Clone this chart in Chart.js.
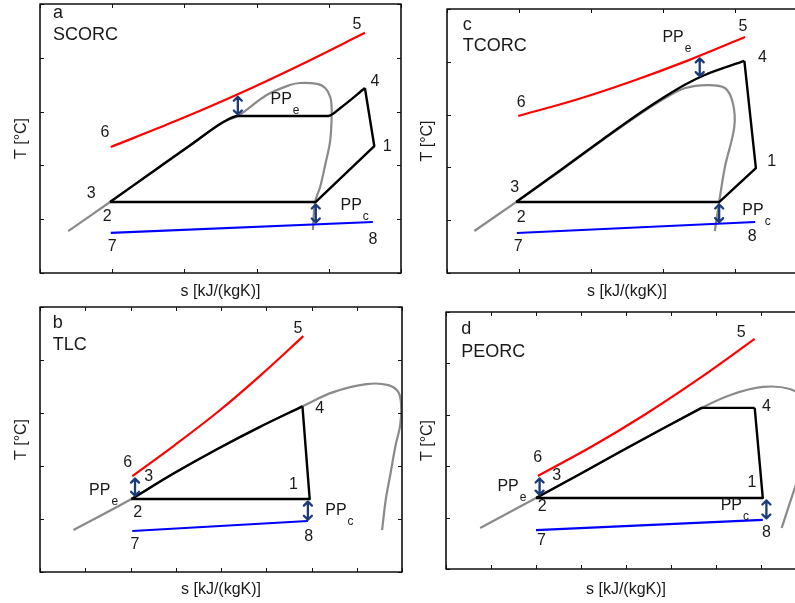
<!DOCTYPE html>
<html>
<head>
<meta charset="utf-8">
<script src="https://cdn.jsdelivr.net/npm/chart.js@4.4.1/dist/chart.umd.min.js"></script>
<style>
  html, body { margin: 0; padding: 0; background: #fff; }
  body { width: 795px; height: 603px; overflow: hidden; position: relative; }
  canvas { position: absolute; }
</style>
</head>
<body>
<canvas id="scorc" width="420" height="300" style="left:0;top:0"></canvas>
<canvas id="tcorc" width="440" height="300" style="left:400px;top:0"></canvas>
<canvas id="tlc" width="420" height="303" style="left:0;top:300px"></canvas>
<canvas id="peorc" width="440" height="303" style="left:400px;top:300px"></canvas>
<script>
// tick positions (no tick labels are printed on these diagrams)
const sTicksCoarse = [0, 1, 2, 3, 4, 5];
const sTicksFine = [0, 0.5, 1, 1.5, 2, 2.5, 3, 3.5, 4];
const tTicks = [0, 50, 100, 150, 200, 250];

// a - SCORC   [s, T]
const scorcDome = [[0.39,39.0],[0.97,66.0],[1.62,96.9],[2.12,120.6],[2.54,140.3],[2.74,145.9],[3.14,165.4],[3.46,174.7],[3.60,176.6],[3.84,175.7],[3.95,171.9],[4.02,163.6],[4.04,151.5],[4.02,123.6],[3.95,100.4],[3.88,79.9],[3.81,66.0],[3.78,40.0]];
const scorcHeating = [[0.97,66.0],[1.62,96.9],[2.12,120.6],[2.54,140.3],[2.74,145.9],[3.99,145.9],[4.16,153.4],[4.50,171.9]];
const scorcRejection = [[4.50,171.9],[4.63,118.0],[3.82,66.0],[0.97,66.0]];
const scorcHot = [[0.98,117.1],[1.86,140.7],[2.74,166.1],[3.62,193.8],[4.50,223.2]];
const scorcCold = [[0.98,37.2],[4.61,47.4]];
const scorcPinch = [[2.74,145.9,166.1],[3.82,45.5,66.0]];
const scorcNumbers = [["1",4.81,117.1],["2",0.93,52.0],["3",0.71,73.4],["4",4.64,177.5],["5",4.39,230.5],["6",0.90,130.1],["7",1.00,24.2],["8",4.61,30.7]];
const scorcPP = [["e",3.34,160.8],["c",4.31,62.3]];
const scorcTitle = [["a",0.18,241.2],["SCORC",0.18,221.2]];

// c - TCORC
const tcorcDome = [[0.38,39.8],[0.96,67.2],[1.57,96.6],[2.18,126.9],[2.68,150.6],[3.03,165.7],[3.31,175.2],[3.61,178.0],[3.86,175.2],[3.97,161.0],[3.99,138.3],[3.86,100.4],[3.78,67.2],[3.72,39.8]];
const tcorcHeating = [[0.96,67.2],[1.57,97.1],[2.18,127.4],[2.68,151.5],[3.03,167.1],[3.31,178.5],[3.58,187.5],[4.13,200.8]];
const tcorcRejection = [[4.13,200.8],[4.29,99.4],[3.78,67.2],[0.96,67.2]];
const tcorcHot = [[0.99,148.7],[1.78,163.8],[2.57,181.6],[3.36,201.6],[4.14,223.4]];
const tcorcCold = [[0.97,37.9],[4.28,48.3]];
const tcorcPinch = [[3.51,185.0,205.6],[3.78,46.7,67.2]];
const tcorcNumbers = [["1",4.51,105.1],["2",1.03,52.1],["3",0.94,80.5],["4",4.38,203.6],["5",4.11,233.0],["6",1.03,161.0],["7",0.99,24.6],["8",4.24,34.1]];
const tcorcPP = [["e",3.14,222.5],["c",4.25,58.7]];
const tcorcTitle = [["c",0.22,234.4],["TCORC",0.22,215.0]];

// b - TLC
const tlcDome = [[0.37,39.6],[1.01,68.8],[1.48,93.1],[1.95,115.6],[2.42,136.5],[2.90,156.3],[3.24,169.7],[3.61,177.3],[3.85,176.3],[3.96,169.7],[3.99,157.5],[3.98,138.6],[3.93,119.8],[3.87,91.5],[3.82,67.9],[3.78,39.6]];
const tlcHeating = [[1.01,68.8],[1.48,93.1],[1.95,115.6],[2.42,136.5],[2.90,156.3]];
const tlcRejection = [[2.90,156.3],[2.98,68.8],[1.01,68.8]];
const tlcHot = [[1.02,90.5],[1.49,119.8],[1.97,151.4],[2.44,185.8],[2.91,222.5]];
const tlcCold = [[1.02,38.7],[2.96,48.1]];
const tlcPinch = [[1.05,70.5,90.5],[2.96,47.9,68.8]];
const tlcNumbers = [["1",2.80,82.0],["2",1.08,55.6],["3",1.20,89.6],["4",3.09,153.7],["5",2.85,230.1],["6",0.97,102.8],["7",1.05,25.5],["8",2.97,33.0]];
const tlcPP = [["e",0.66,76.4],["c",3.27,57.5]];
const tlcTitle = [["b",0.14,234.8],["TLC",0.14,214.1]];

// d - PEORC
const peorcDome = [[0.38,39.9],[1.00,69.1],[1.49,92.4],[1.93,113.8],[2.38,135.2],[2.84,156.7],[3.16,169.3],[3.52,177.1],[3.82,175.1],[3.99,164.4],[4.07,135.2],[3.99,106.1],[3.88,79.8],[3.73,39.9]];
const peorcHeating = [[1.00,69.1],[1.49,92.4],[1.93,113.8],[2.38,135.2],[2.84,156.7],[3.43,156.7]];
const peorcRejection = [[3.43,156.7],[3.52,69.1],[1.00,69.1]];
const peorcHot = [[1.02,90.5],[1.62,119.1],[2.22,150.8],[2.82,185.6],[3.43,223.8]];
const peorcCold = [[1.00,37.9],[3.52,47.7]];
const peorcPinch = [[1.04,70.9,90.5],[3.56,47.7,69.1]];
const peorcNumbers = [["1",3.40,83.7],["2",1.07,60.3],["3",1.23,90.5],["4",3.56,157.6],["5",3.28,229.6],["6",1.02,108.0],["7",1.06,27.2],["8",3.56,35.0]];
const peorcPP = [["e",0.69,79.8],["c",3.17,61.3]];
const peorcTitle = [["d",0.17,233.5],["PEORC",0.17,211.1]];

const FONT = '"Liberation Sans", Arial, Helvetica, sans-serif';

function line(points, color, width, smooth, order) {
  const ds = {
    data: points.map(([s, T]) => ({ x: s, y: T })),
    showLine: true,
    borderColor: color,
    borderWidth: width,
    borderJoinStyle: 'round',
    pointRadius: 0,
    order: order
  };
  if (smooth === 'monotone') ds.cubicInterpolationMode = 'monotone';
  else ds.tension = smooth;
  return ds;
}

// arrows, state numbers, PP labels, panel title and the boxed frame
function annotations(pinch, numbers, pps, titles) {
  return {
    id: 'annotations',
    afterDraw(chart) {
      const { ctx, chartArea: ca, scales: { x, y } } = chart;
      ctx.save();

      ctx.strokeStyle = '#1b3a78';
      ctx.lineWidth = 2.3;
      ctx.lineCap = 'round';
      ctx.lineJoin = 'round';
      pinch.forEach(([s, lo, hi]) => {
        const px = x.getPixelForValue(s);
        const top = y.getPixelForValue(hi) + 2.5;
        const bot = y.getPixelForValue(lo) - 1.5;
        ctx.beginPath();
        ctx.moveTo(px, top); ctx.lineTo(px, bot);
        ctx.moveTo(px - 4, top + 4); ctx.lineTo(px, top); ctx.lineTo(px + 4, top + 4);
        ctx.moveTo(px - 4, bot - 4); ctx.lineTo(px, bot); ctx.lineTo(px + 4, bot - 4);
        ctx.stroke();
      });

      ctx.fillStyle = '#1a1a1a';
      ctx.textBaseline = 'middle';
      ctx.textAlign = 'center';
      ctx.font = '16px ' + FONT;
      numbers.forEach(([t, s, T]) => ctx.fillText(t, x.getPixelForValue(s), y.getPixelForValue(T)));

      pps.forEach(([sub, s, T]) => {
        const px = x.getPixelForValue(s), py = y.getPixelForValue(T);
        ctx.font = '16px ' + FONT;
        ctx.textAlign = 'center';
        ctx.fillText('PP', px, py);
        const w = ctx.measureText('PP').width;
        ctx.font = '12px ' + FONT;
        ctx.textAlign = 'left';
        ctx.fillText(sub, px + w / 2 + 1, py + 11);
      });

      ctx.font = '18px ' + FONT;
      ctx.textAlign = 'left';
      titles.forEach(([t, s, T]) => ctx.fillText(t, x.getPixelForValue(s), y.getPixelForValue(T)));

      // inward ticks on all four sides
      ctx.strokeStyle = '#111';
      ctx.lineWidth = 1;
      ctx.lineCap = 'butt';
      ctx.beginPath();
      x.ticks.forEach(tk => {
        const px = Math.round(x.getPixelForValue(tk.value)) + 0.5;
        ctx.moveTo(px, ca.bottom); ctx.lineTo(px, ca.bottom - 4);
        ctx.moveTo(px, ca.top); ctx.lineTo(px, ca.top + 4);
      });
      y.ticks.forEach(tk => {
        const py = Math.round(y.getPixelForValue(tk.value)) + 0.5;
        ctx.moveTo(ca.left, py); ctx.lineTo(ca.left + 4, py);
        ctx.moveTo(ca.right, py); ctx.lineTo(ca.right - 4, py);
      });
      ctx.stroke();
      ctx.lineWidth = 1.6;
      ctx.strokeRect(ca.left, ca.top, ca.right - ca.left, ca.bottom - ca.top);
      ctx.restore();
    }
  };
}

function drawPanel(id, p) {
  new Chart(document.getElementById(id), {
    type: 'scatter',
    data: {
      datasets: [
        line(p.heating, '#000000', 2.4, p.heatSmooth, 1),
        line(p.rejection, '#000000', 2.4, 0, 1),
        line(p.hot, '#ff0000', 2.2, 'monotone', 2),
        line(p.cold, '#0000ff', 2.2, 0, 3),
        line(p.dome, '#8a8a8a', 2.2, 0.35, 4)
      ]
    },
    options: {
      responsive: false,
      animation: false,
      events: [],
      layout: { padding: p.pad },
      plugins: { legend: { display: false }, tooltip: { enabled: false } },
      scales: {
        x: {
          type: 'linear',
          min: 0,
          max: p.sTicks[p.sTicks.length - 1],
          afterBuildTicks: ax => { ax.ticks = p.sTicks.map(v => ({ value: v })); },
          afterFit: ax => { ax.height = p.xh; },
          ticks: { display: false },
          grid: { display: false },
          border: { display: false },
          title: {
            display: true,
            text: 's [kJ/(kgK)]',
            color: '#1a1a1a',
            font: { family: FONT, size: 16, lineHeight: 1 },
            padding: { top: 0, bottom: p.xtp }
          }
        },
        y: {
          type: 'linear',
          min: 0,
          max: 250,
          afterBuildTicks: ax => { ax.ticks = tTicks.map(v => ({ value: v })); },
          afterFit: ax => { ax.width = p.yw; },
          ticks: { display: false },
          grid: { display: false },
          border: { display: false },
          title: {
            display: true,
            text: 'T [°C]',
            color: '#1a1a1a',
            font: { family: FONT, size: 16, lineHeight: 1 },
            padding: { top: p.ytp, bottom: 0 }
          }
        }
      }
    },
    plugins: [annotations(p.pinch, p.numbers, p.pps, p.titles)]
  });
}

drawPanel('scorc', {
  dome: scorcDome, heating: scorcHeating, rejection: scorcRejection, hot: scorcHot, cold: scorcCold,
  pinch: scorcPinch, numbers: scorcNumbers, pps: scorcPP, titles: scorcTitle, heatSmooth: 'monotone',
  sTicks: sTicksCoarse, pad: { left: 0, top: 4, right: 19, bottom: 0 },
  yw: 40, xh: 27, ytp: 14, xtp: 0
});
drawPanel('tcorc', {
  dome: tcorcDome, heating: tcorcHeating, rejection: tcorcRejection, hot: tcorcHot, cold: tcorcCold,
  pinch: tcorcPinch, numbers: tcorcNumbers, pps: tcorcPP, titles: tcorcTitle, heatSmooth: 'monotone',
  sTicks: sTicksCoarse, pad: { left: 0, top: 9, right: 33, bottom: 0 },
  yw: 47, xh: 27, ytp: 20, xtp: 0
});
drawPanel('tlc', {
  dome: tlcDome, heating: tlcHeating, rejection: tlcRejection, hot: tlcHot, cold: tlcCold,
  pinch: tlcPinch, numbers: tlcNumbers, pps: tlcPP, titles: tlcTitle, heatSmooth: 'monotone',
  sTicks: sTicksFine, pad: { left: 0, top: 7, right: 18, bottom: 0 },
  yw: 40, xh: 31, ytp: 14, xtp: 5
});
drawPanel('peorc', {
  dome: peorcDome, heating: peorcHeating, rejection: peorcRejection, hot: peorcHot, cold: peorcCold,
  pinch: peorcPinch, numbers: peorcNumbers, pps: peorcPP, titles: peorcTitle, heatSmooth: 0,
  sTicks: sTicksFine, pad: { left: 0, top: 12, right: 34, bottom: 0 },
  yw: 46, xh: 34, ytp: 20, xtp: 5
});
</script>
</body>
</html>
